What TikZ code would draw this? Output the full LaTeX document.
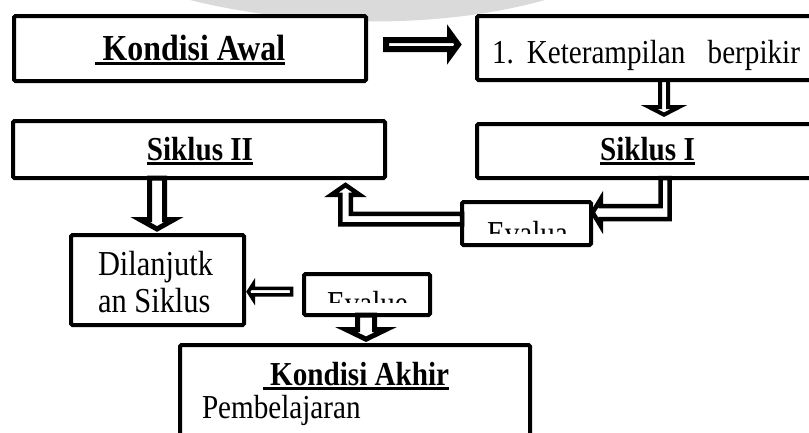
\documentclass[tikz,border=0pt]{standalone}
\usepackage{graphicx}
\usepackage{fontspec}
\setmainfont{Liberation Serif}
\usetikzlibrary{calc}
\newcommand\myul[1]{\setbox0=\hbox{#1}\rlap{\rule[-5pt]{\wd0}{3.5pt}}\box0}
\newcommand\fntA{\fontsize{36.6}{40}\selectfont\bfseries}
\newcommand\fntB{\fontsize{33.5}{38}\selectfont\bfseries}
\newcommand\fntR{\fontsize{33.5}{38}\selectfont}
\newcommand\fntD{\fontsize{35}{38}\selectfont}
\newcommand\sx[1]{\scalebox{0.87}[1]{#1}}
\definecolor{wmgrey}{HTML}{DADADA}
\tikzset{
  box/.style={draw=black, line width=4pt, fill=white, rounded corners=1.5pt,
    inner sep=0pt, outer sep=0pt, rectangle},
  barrow/.style={draw=black, fill=white, line join=miter, miter limit=10},
  txt/.style={inner sep=0pt, outer sep=0pt, anchor=base},
}
\begin{document}
\begin{tikzpicture}[x=1pt, y=-1pt]
\useasboundingbox (0,0) rectangle (809,432);
\clip (0,0) rectangle (809,432);
\fill[white] (0,0) rectangle (809,432);
% watermark
\fill[wmgrey] (190,0) .. controls (290,25) and (430,32) .. (545,0) -- cycle;

% boxes
\node[box, minimum width=352pt, minimum height=65pt] (awal) at (190,48.5) {};
\node[box, minimum width=340pt, minimum height=64pt] (ket) at (647,48) {};
\node[box, minimum width=340pt, minimum height=54pt] (s1) at (647,151) {};
\node[box, minimum width=372pt, minimum height=57pt] (s2) at (199,149.5) {};
\node[box, minimum width=173pt, minimum height=90pt] (dil) at (157.5,280) {};
\node[box, minimum width=129pt, minimum height=43pt] (eva1) at (526.5,223.5) {};
\node[box, minimum width=126pt, minimum height=41pt] (eva2) at (367,294.5) {};
\node[box, minimum width=350pt, minimum height=105pt] (akhir) at (355,397.5) {};

% arrows
\draw[barrow, line width=6pt] ($(awal.east)+(20,-8.5)$) -- ++(64,0) -- ++(0,-6.5)
  -- ++(8,11) -- ++(-8,11) -- ++(0,-6.5) -- ++(-64,0) -- cycle;
\draw[barrow, line width=4pt] ($(ket.south)+(13,0)$) -- ++(0,27) -- ++(-11,0)
  -- ++(15,7.7) -- ++(15,-7.7) -- ++(-11,0) -- ++(0,-27) -- cycle;
\draw[barrow, line width=5pt] ($(s2.south)+(-49.5,0)$) -- ++(0,41.5) -- ++(-9.5,0)
  -- ++(17,9.5) -- ++(17,-9.5) -- ++(-9.5,0) -- ++(0,-41.5) -- cycle;
\draw[barrow, line width=4.5pt] ($(s1.south)+(13.5,0)$) -- ++(0,28) -- ++(-59.75,0)
  -- ++(0,-7) -- ++(-8.15,13.5) -- ++(8.15,13.5) -- ++(0,-7) -- ++(68.75,0)
  -- ++(0,-41) -- cycle;
\draw[barrow, line width=4.5pt] ($(eva1.west)+(0,-9.55)$) -- ++(-111.25,0) -- ++(0,-19.2)
  -- ++(8.75,0) -- ++(-14,-9.75) -- ++(-14,9.75) -- ++(8.75,0) -- ++(0,29.7)
  -- ++(121.75,0) -- cycle;
\draw[barrow, line width=3.5pt] ($(eva2.west)+(-12.5,-6.05)$) -- ++(-38.2,0) -- ++(0,-4.5)
  -- ++(-5,7.75) -- ++(5,7.75) -- ++(0,-4.5) -- ++(38.2,0) -- cycle;
\draw[barrow, line width=5pt] ($(eva2.south)+(-9.5,0)$) -- ++(0,14.5) -- ++(-11.5,0)
  -- ++(20,9.7) -- ++(20,-9.7) -- ++(-11.5,0) -- ++(0,-14.5) -- cycle;

% texts
\node[txt] (awal-t) at (190,60) {\fntA\sx{\myul{\ Kondisi Awal}}};
\node[txt, anchor=base west] (ket-t) at (492,63) {\fntR\sx{\hbox to 354pt{1.\hfill\hskip 2pt Keterampilan\hfill\hfill berpikir}}};
\node[txt] (s2-t) at (200,160) {\fntB\sx{\myul{Siklus II}}};
\node[txt] (s1-t) at (647.5,160) {\fntB\sx{\myul{Siklus I}}};
\node[txt, anchor=base west] (dil-t1) at (98,275) {\fntD\sx{Dilanjutk}};
\node[txt, anchor=base west] (dil-t2) at (98,312) {\fntD\sx{an Siklus}};
\begin{scope}
  \clip (464,203) rectangle (589,233);
  \node[txt, anchor=base west] (eva1-t) at (487,244) {\fntR\sx{Evalua}};
\end{scope}
\begin{scope}
  \clip (306,276) rectangle (428,302);
  \node[txt, anchor=base west] (eva2-t) at (327,314) {\fntR\sx{Evalue}};
\end{scope}
\node[txt] (akhir-t) at (356,385) {\fntB\sx{\myul{\ Kondisi Akhir}}};
\node[txt, anchor=base west] (akhir-t2) at (202,418) {\fntR\sx{Pembelajaran}};
\end{tikzpicture}
\end{document}
